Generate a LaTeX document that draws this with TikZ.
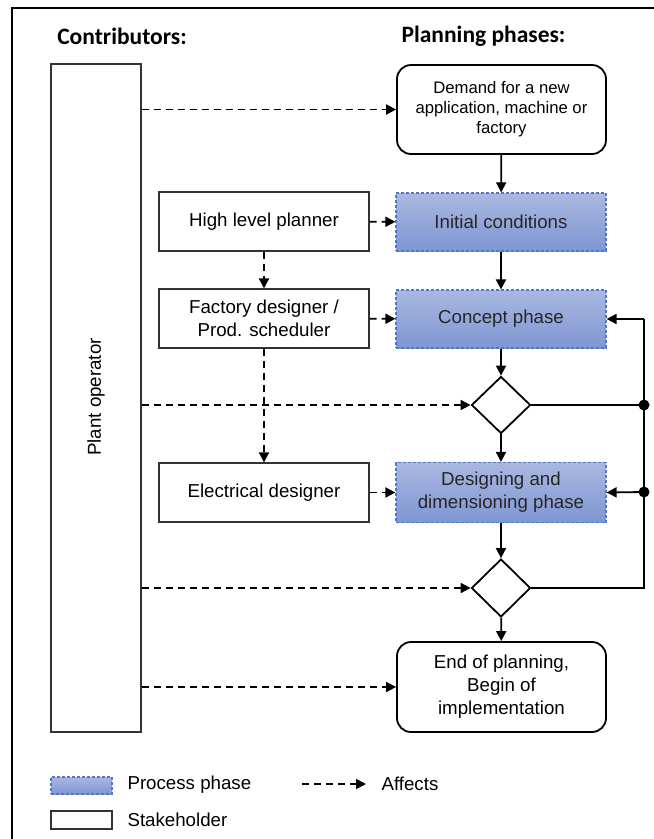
\documentclass[tikz,border=0pt]{standalone}
\usepackage{fontspec}
\setmainfont{Liberation Sans}
\newfontfamily\headfont{Carlito}
\usetikzlibrary{shapes.geometric,arrows.meta}

\definecolor{phasetop}{HTML}{AAB8E1}
\definecolor{phasebot}{HTML}{7F96D3}
\definecolor{phaseline}{HTML}{4F78CC}

\begin{document}
\begin{tikzpicture}[x=1pt,y=-1pt,
  font=\fontsize{18.7}{23}\selectfont,
  tip/.style={-{Triangle[length=10pt,width=10pt]}},
  flow/.style={line width=1.8pt, tip},
  affects/.style={line width=1.8pt, dash pattern=on 7pt off 5pt, tip},
  feedback/.style={line width=1.8pt},
  stakebox/.style={draw=black!80, line width=1.3pt, minimum width=210pt,
    minimum height=59pt, align=center, inner sep=0pt},
  phasebox/.style={draw=phaseline, line width=1.2pt, dash pattern=on 3pt off 2pt,
    top color=phasetop, bottom color=phasebot, minimum width=210pt,
    minimum height=58pt, align=center, inner sep=0pt, text=black!85},
  endbox/.style={draw, line width=1.8pt, rounded corners=14pt, minimum width=209pt,
    minimum height=89pt, align=center, inner sep=0pt},
  decision/.style={draw, line width=1.8pt, diamond, minimum width=59pt,
    minimum height=57pt, inner sep=0pt},
  header/.style={font=\headfont\bfseries\fontsize{23.5}{27}\selectfont},
  junction/.style={circle, fill, inner sep=0pt, minimum size=11pt}
]
\useasboundingbox (0,0) rectangle (654,839);

% frame
\draw[line width=1.8pt] (12,839) -- (12,8) -- (654,8);

% headers
\node[header] (hcontrib) at (122,36) {Contributors:};
\node[header] (hphases) at (483.5,36) {Planning phases:};

% contributors
\node[stakebox, minimum width=90pt, minimum height=668pt] (plant) at (96,398) {};
\node[rotate=90] (plantlbl) at (96,397) {Plant operator};
\node[stakebox] (hlp) at (264,221.5) {High level planner};
\node[stakebox] (fd) at (264,318.5) {Factory designer /\\Prod. scheduler};
\node[stakebox] (ed) at (264,492.5) {Electrical designer};

% planning phases
\node[endbox, font=\fontsize{16.7}{20}\selectfont] (demand) at (501.5,109.5)
  {Demand for a new\\application, machine or\\factory};
\node[phasebox] (init) at (501,222) {Initial conditions};
\node[phasebox] (concept) at (501,319) {Concept phase};
\node[decision] (d1) at (501,405) {};
\node[phasebox, minimum height=60pt] (design) at (501,492.5) {Designing and\\dimensioning phase};
\node[decision, minimum height=58pt] (d2) at (501,588) {};
\node[endbox, minimum height=90pt] (end) at (501.5,687) {End of planning,\\Begin of\\implementation};

% main flow
\draw[flow] (demand) -- (init);
\draw[flow] (init) -- (concept);
\draw[flow] (concept) -- (d1);
\draw[flow] (d1) -- (design);
\draw[flow] (design) -- (d2);
\draw[flow] (d2) -- (end);

% feedback loops
\coordinate (r0) at (644,319);
\node[junction] (j1) at (644,405) {};
\node[junction] (j2) at (644,492) {};
\coordinate (r3) at (644,588);
\draw[feedback] (d1.east) -- (j1.center);
\draw[feedback] (d2.east) -- (r3) -- (j2.center) -- (j1.center) -- (r0);
\draw[flow] (r0) -- (concept.east);
\draw[flow] (j2.center) -- (design.east);

% influences
\draw[affects] (plant.east |- demand.west) -- (demand.west);
\draw[affects] (plant.east |- d1.west) -- (d1.west);
\draw[affects] (plant.east |- d2.west) -- (d2.west);
\draw[affects] (plant.east |- end.west) -- (end.west);
\draw[affects] (hlp) -- (init);
\draw[affects] (fd) -- (concept);
\draw[affects] (ed) -- (design);
\draw[affects] (hlp) -- (fd);
\draw[affects] (fd) -- (ed);

% legend
\node[phasebox, minimum width=61pt, minimum height=17pt] (lgproc) at (81.5,785.5) {};
\node[anchor=west] (lgproctxt) at (124,785) {Process phase};
\node[stakebox, minimum width=61pt, minimum height=18pt] (lgstake) at (81.5,820) {};
\node[anchor=west] (lgstaketxt) at (124,820) {Stakeholder};
\coordinate (la) at (302,784);
\coordinate (lb) at (366,784);
\draw[affects] (la) -- (lb);
\node[anchor=west] (lgaff) at (378,784) {Affects};
\end{tikzpicture}
\end{document}
